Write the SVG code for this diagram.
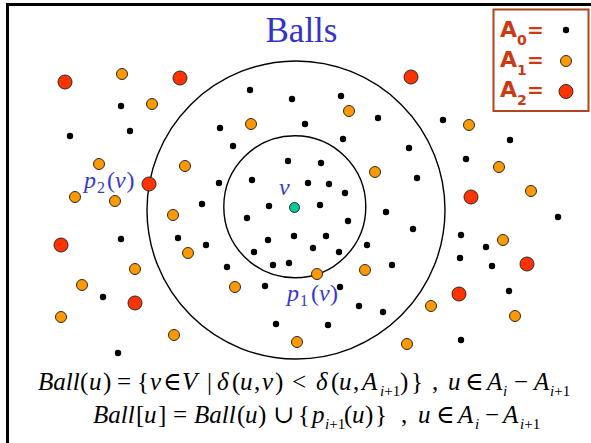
<svg xmlns="http://www.w3.org/2000/svg" width="591" height="443" viewBox="0 0 591 443">
<style>
.k{fill:#000}
.o{fill:#ff9900;stroke:#2a2a2a;stroke-width:1}
.r{fill:#ff3300;stroke:#2a2a2a;stroke-width:1}
.ring{fill:none;stroke:#000;stroke-width:1.4}
.lbl{font-family:"Liberation Serif","DejaVu Serif",serif;font-style:italic;font-size:24px;fill:#3838d2}
.up{font-style:normal}
.sub{font-size:16px}
.m{font-family:"Liberation Serif","DejaVu Serif",serif;font-size:25px;fill:#000}
.it{font-style:italic}
.s{font-size:15px}
.leg{font-family:"DejaVu Sans","Liberation Sans",sans-serif;font-weight:bold;fill:#cc3a14}
</style>
<rect width="591" height="443" fill="#fff"/>
<path d="M7.5,445 V4.5 H593" fill="none" stroke="#000" stroke-width="3"/>
<text x="265.5" y="42" font-family="'Liberation Serif',serif" font-size="35" fill="#3333cc">Balls</text>
<g id="legend">
<rect x="493.5" y="9.5" width="95" height="101.5" fill="none" stroke="#b0451e" stroke-width="2"/>
<text class="leg" y="36.5"><tspan x="500" font-size="22">A</tspan><tspan x="517" y="45" font-size="14">0</tspan><tspan x="527" y="36.5" font-size="20">=</tspan></text>
<text class="leg" y="66.5"><tspan x="500" font-size="22">A</tspan><tspan x="517" y="75" font-size="14">1</tspan><tspan x="527" y="66.5" font-size="20">=</tspan></text>
<text class="leg" y="96.5"><tspan x="500" font-size="22">A</tspan><tspan x="517" y="105" font-size="14">2</tspan><tspan x="527" y="96.5" font-size="20">=</tspan></text>
<circle class="k" cx="566" cy="30" r="3.2"/>
<circle class="o" cx="566" cy="61" r="5.5"/>
<circle class="r" cx="566" cy="91.5" r="7"/>
</g>
<g id="balls">
<circle class="ring" cx="296" cy="210" r="149"/>
<circle class="ring" cx="294.8" cy="206.7" r="71"/>
</g>
<g id="A0">
<circle class="k" cx="250" cy="90" r="3.2"/><circle class="k" cx="292" cy="99" r="3.2"/><circle class="k" cx="341" cy="96" r="3.2"/><circle class="k" cx="121" cy="106" r="3.2"/><circle class="k" cx="70" cy="136" r="3.2"/><circle class="k" cx="130" cy="131" r="3.2"/><circle class="k" cx="220" cy="128" r="3.2"/><circle class="k" cx="305" cy="124" r="3.2"/><circle class="k" cx="378" cy="118" r="3.2"/><circle class="k" cx="443" cy="120" r="3.2"/><circle class="k" cx="233" cy="146" r="3.2"/><circle class="k" cx="343" cy="139" r="3.2"/><circle class="k" cx="409" cy="148" r="3.2"/><circle class="k" cx="510" cy="140" r="3.2"/><circle class="k" cx="466" cy="159" r="3.2"/><circle class="k" cx="288" cy="161" r="3.2"/><circle class="k" cx="321" cy="163" r="3.2"/><circle class="k" cx="219" cy="183" r="3.2"/><circle class="k" cx="252" cy="180" r="3.2"/><circle class="k" cx="308" cy="183" r="3.2"/><circle class="k" cx="329" cy="184" r="3.2"/><circle class="k" cx="345" cy="193" r="3.2"/><circle class="k" cx="417" cy="178" r="3.2"/><circle class="k" cx="202" cy="204" r="3.2"/><circle class="k" cx="269" cy="206" r="3.2"/><circle class="k" cx="320" cy="205" r="3.2"/><circle class="k" cx="247" cy="218" r="3.2"/><circle class="k" cx="348" cy="221" r="3.2"/><circle class="k" cx="386" cy="212" r="3.2"/><circle class="k" cx="413" cy="229" r="3.2"/><circle class="k" cx="558" cy="217" r="3.2"/><circle class="k" cx="121" cy="239" r="3.2"/><circle class="k" cx="178" cy="238" r="3.2"/><circle class="k" cx="206" cy="245" r="3.2"/><circle class="k" cx="268" cy="240" r="3.2"/><circle class="k" cx="294" cy="236" r="3.2"/><circle class="k" cx="326" cy="236" r="3.2"/><circle class="k" cx="254" cy="252" r="3.2"/><circle class="k" cx="313" cy="248" r="3.2"/><circle class="k" cx="339" cy="252" r="3.2"/><circle class="k" cx="367" cy="245" r="3.2"/><circle class="k" cx="461" cy="235" r="3.2"/><circle class="k" cx="486" cy="247" r="3.2"/><circle class="k" cx="460" cy="258" r="3.2"/><circle class="k" cx="492" cy="266" r="3.2"/><circle class="k" cx="227" cy="267" r="3.2"/><circle class="k" cx="273" cy="265" r="3.2"/><circle class="k" cx="289" cy="263" r="3.2"/><circle class="k" cx="392" cy="265" r="3.2"/><circle class="k" cx="103" cy="297" r="3.2"/><circle class="k" cx="265" cy="286" r="3.2"/><circle class="k" cx="340" cy="287" r="3.2"/><circle class="k" cx="509" cy="291" r="3.2"/><circle class="k" cx="359" cy="306" r="3.2"/><circle class="k" cx="383" cy="312" r="3.2"/><circle class="k" cx="276" cy="324" r="3.2"/><circle class="k" cx="328" cy="325" r="3.2"/><circle class="k" cx="461" cy="340" r="3.2"/><circle class="k" cx="118" cy="353" r="3.2"/>
</g>
<g id="A1">
<circle class="o" cx="122" cy="74" r="5.5"/><circle class="o" cx="152" cy="104" r="5.5"/><circle class="o" cx="251" cy="124" r="5.5"/><circle class="o" cx="349" cy="111" r="5.5"/><circle class="o" cx="469" cy="125" r="5.5"/><circle class="o" cx="99" cy="164" r="5.5"/><circle class="o" cx="185" cy="166" r="5.5"/><circle class="o" cx="75" cy="197" r="5.5"/><circle class="o" cx="115" cy="201" r="5.5"/><circle class="o" cx="375" cy="172" r="5.5"/><circle class="o" cx="499" cy="167" r="5.5"/><circle class="o" cx="531" cy="191" r="5.5"/><circle class="o" cx="173" cy="215" r="5.5"/><circle class="o" cx="188" cy="253" r="5.5"/><circle class="o" cx="503" cy="240" r="5.5"/><circle class="o" cx="135" cy="269" r="5.5"/><circle class="o" cx="82" cy="285" r="5.5"/><circle class="o" cx="365" cy="270" r="5.5"/><circle class="o" cx="317" cy="274" r="5.5"/><circle class="o" cx="235" cy="287" r="5.5"/><circle class="o" cx="61" cy="317" r="5.5"/><circle class="o" cx="431" cy="306" r="5.5"/><circle class="o" cx="515" cy="316" r="5.5"/><circle class="o" cx="174" cy="335" r="5.5"/><circle class="o" cx="297" cy="342" r="5.5"/><circle class="o" cx="407" cy="344" r="5.5"/>
</g>
<g id="A2">
<circle class="r" cx="65" cy="82" r="7"/><circle class="r" cx="180" cy="78" r="7"/><circle class="r" cx="411" cy="77" r="7"/><circle class="r" cx="149" cy="184" r="7"/><circle class="r" cx="61" cy="245" r="7"/><circle class="r" cx="471" cy="197" r="7"/><circle class="r" cx="527" cy="264" r="7"/><circle class="r" cx="135" cy="303" r="7"/><circle class="r" cx="459" cy="294" r="7"/>
</g>
<g id="v">
<circle cx="294.5" cy="207.5" r="5" fill="#00cc99" stroke="#2a2a2a" stroke-width="1"/>
<text class="lbl" x="279" y="195">v</text>
</g>
<g id="labels">
<text class="lbl" y="188"><tspan x="84">p</tspan><tspan class="up sub" x="97" y="193">2</tspan><tspan class="up" x="107" y="188">(</tspan><tspan x="115">v</tspan><tspan class="up" x="126.5">)</tspan></text>
<text class="lbl" y="301"><tspan x="287">p</tspan><tspan class="up sub" x="300" y="306">1</tspan><tspan class="up" x="311" y="301">(</tspan><tspan x="319">v</tspan><tspan class="up" x="330">)</tspan></text>
</g>
<g id="formulas">
<text class="m" y="390"><tspan class="it" x="38">Ball</tspan><tspan x="80">(</tspan><tspan class="it" x="89">u</tspan><tspan x="103">)</tspan><tspan x="117">=</tspan><tspan x="137">{</tspan><tspan class="it" x="150">v</tspan><tspan x="163">∈</tspan><tspan class="it" x="182">V</tspan><tspan x="207">|</tspan><tspan class="it" x="217">δ</tspan><tspan x="232">(</tspan><tspan class="it" x="240">u</tspan><tspan x="254">,</tspan><tspan class="it" x="262">v</tspan><tspan x="275">)</tspan><tspan x="292">&lt;</tspan><tspan class="it" x="316">δ</tspan><tspan x="331">(</tspan><tspan class="it" x="339">u</tspan><tspan x="353">,</tspan><tspan class="it" x="362">A</tspan><tspan class="s it" x="380" y="396">i</tspan><tspan class="s" y="396">+1</tspan><tspan x="400" y="390">)</tspan><tspan x="411">}</tspan><tspan x="432">,</tspan><tspan class="it" x="448">u</tspan><tspan x="465">∈</tspan><tspan class="it" x="487">A</tspan><tspan class="s it" x="503" y="396">i</tspan><tspan x="514" y="390">−</tspan><tspan class="it" x="534">A</tspan><tspan class="s it" x="550" y="396">i</tspan><tspan class="s" y="396">+1</tspan></text>
<text class="m" y="423"><tspan class="it" x="93">Ball</tspan><tspan x="136">[</tspan><tspan class="it" x="144">u</tspan><tspan x="158">]</tspan><tspan x="173">=</tspan><tspan class="it" x="194">Ball</tspan><tspan x="237">(</tspan><tspan class="it" x="245">u</tspan><tspan x="258">)</tspan><tspan x="273">∪</tspan><tspan x="298">{</tspan><tspan class="it" x="312">p</tspan><tspan class="s it" x="325" y="429">i</tspan><tspan class="s" y="429">+1</tspan><tspan x="344" y="423">(</tspan><tspan class="it" x="352">u</tspan><tspan x="365">)</tspan><tspan x="375">}</tspan><tspan x="401">,</tspan><tspan class="it" x="418">u</tspan><tspan x="436">∈</tspan><tspan class="it" x="458">A</tspan><tspan class="s it" x="475" y="429">i</tspan><tspan x="485" y="423">−</tspan><tspan class="it" x="503">A</tspan><tspan class="s it" x="520" y="429">i</tspan><tspan class="s" y="429">+1</tspan></text>
</g>
</svg>
